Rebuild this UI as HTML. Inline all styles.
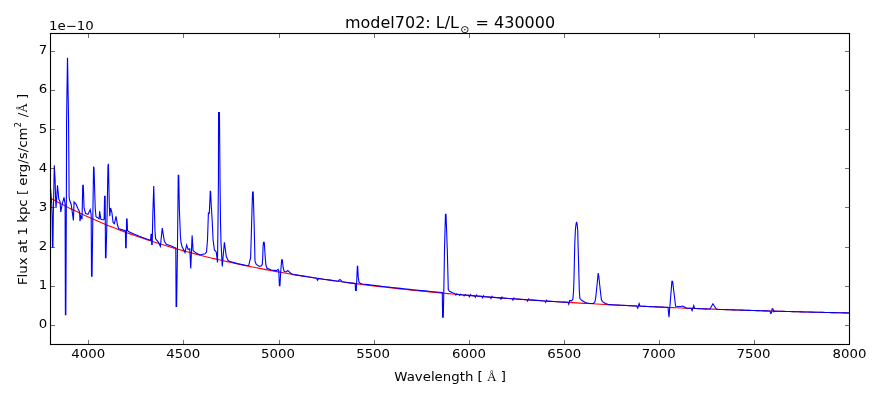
<!DOCTYPE html>
<html lang="en"><head><meta charset="utf-8"><title>model702 spectrum</title>
<style>html,body{margin:0;padding:0;background:#fff}svg{display:block;will-change:transform}text{font-family:"DejaVu Sans","Liberation Sans",sans-serif;fill:#000}.s{font-family:"Liberation Serif","DejaVu Serif",serif}</style></head><body>
<svg width="880" height="400" viewBox="0 0 880 400">
<rect width="880" height="400" fill="#fff"/>
<clipPath id="c"><rect x="50.5" y="33.5" width="799.0" height="311.0"/></clipPath>
<g clip-path="url(#c)" fill="none" stroke-width="1.11" stroke-linejoin="miter">
<path d="M50.50,198.14 L54.52,200.33 L58.53,202.48 L62.55,204.58 L66.56,206.63 L70.58,208.64 L74.59,210.61 L78.61,212.53 L82.62,214.41 L86.64,216.26 L90.65,218.06 L94.67,219.82 L98.68,221.55 L102.70,223.24 L106.71,224.90 L110.73,226.52 L114.74,228.10 L118.76,229.66 L122.77,231.18 L126.79,232.67 L130.80,234.13 L134.82,235.56 L138.83,236.96 L142.85,238.33 L146.86,239.68 L150.88,240.99 L154.89,242.28 L158.91,243.55 L162.92,244.79 L166.94,246.01 L170.95,247.20 L174.97,248.37 L178.98,249.51 L183.00,250.64 L187.01,251.74 L191.03,252.82 L195.04,253.88 L199.06,254.92 L203.07,255.94 L207.09,256.94 L211.10,257.92 L215.12,258.88 L219.13,259.83 L223.15,260.75 L227.16,261.66 L231.18,262.56 L235.19,263.43 L239.21,264.29 L243.22,265.14 L247.24,265.97 L251.25,266.78 L255.27,267.58 L259.28,268.37 L263.30,269.14 L267.31,269.90 L271.33,270.64 L275.34,271.37 L279.36,272.09 L283.37,272.79 L287.39,273.49 L291.40,274.17 L295.42,274.84 L299.43,275.50 L303.45,276.14 L307.46,276.78 L311.48,277.40 L315.49,278.02 L319.51,278.62 L323.53,279.22 L327.54,279.80 L331.56,280.37 L335.57,280.94 L339.59,281.49 L343.60,282.04 L347.62,282.58 L351.63,283.11 L355.65,283.63 L359.66,284.14 L363.68,284.64 L367.69,285.14 L371.71,285.63 L375.72,286.11 L379.74,286.58 L383.75,287.04 L387.77,287.50 L391.78,287.95 L395.80,288.40 L399.81,288.83 L403.83,289.26 L407.84,289.69 L411.86,290.10 L415.87,290.51 L419.89,290.92 L423.90,291.32 L427.92,291.71 L431.93,292.10 L435.95,292.48 L439.96,292.85 L443.98,293.22 L447.99,293.59 L452.01,293.94 L456.02,294.30 L460.04,294.65 L464.05,294.99 L468.07,295.33 L472.08,295.66 L476.10,295.99 L480.11,296.32 L484.13,296.64 L488.14,296.95 L492.16,297.26 L496.17,297.57 L500.19,297.87 L504.20,298.17 L508.22,298.46 L512.23,298.75 L516.25,299.03 L520.26,299.32 L524.28,299.59 L528.29,299.87 L532.31,300.14 L536.32,300.40 L540.34,300.67 L544.35,300.93 L548.37,301.18 L552.38,301.43 L556.40,301.68 L560.41,301.93 L564.43,302.17 L568.44,302.41 L572.46,302.64 L576.47,302.87 L580.49,303.10 L584.51,303.33 L588.52,303.55 L592.54,303.77 L596.55,303.99 L600.57,304.20 L604.58,304.41 L608.60,304.62 L612.61,304.83 L616.63,305.03 L620.64,305.23 L624.66,305.43 L628.67,305.62 L632.69,305.81 L636.70,306.00 L640.72,306.19 L644.73,306.38 L648.75,306.56 L652.76,306.74 L656.78,306.91 L660.79,307.09 L664.81,307.26 L668.82,307.43 L672.84,307.60 L676.85,307.76 L680.87,307.93 L684.88,308.09 L688.90,308.25 L692.91,308.40 L696.93,308.56 L700.94,308.71 L704.96,308.86 L708.97,309.01 L712.99,309.15 L717.00,309.30 L721.02,309.44 L725.03,309.58 L729.05,309.72 L733.06,309.85 L737.08,309.98 L741.09,310.12 L745.11,310.25 L749.12,310.37 L753.14,310.50 L757.15,310.62 L761.17,310.75 L765.18,310.87 L769.20,310.98 L773.21,311.10 L777.23,311.22 L781.24,311.33 L785.26,311.44 L789.27,311.55 L793.29,311.66 L797.30,311.76 L801.32,311.87 L805.33,311.97 L809.35,312.07 L813.36,312.17 L817.38,312.27 L821.39,312.36 L825.41,312.46 L829.42,312.55 L833.44,312.64 L837.45,312.73 L841.47,312.82 L845.48,312.90 L849.50,312.99" stroke="#f00"/>
<path d="M50.50,187.80 L51.70,203.00 L52.15,218.00 L52.50,247.00 L52.90,247.00 L53.30,215.00 L54.30,165.20 L55.10,180.00 L55.55,197.00 L56.00,208.00 L57.50,185.40 L58.80,199.00 L60.00,201.40 L60.80,212.00 L62.00,205.00 L64.00,197.40 L65.10,204.00 L65.40,314.75 L65.85,314.75 L66.40,190.00 L66.60,120.00 L67.45,58.30 L67.55,58.30 L68.55,120.00 L68.98,175.00 L69.10,197.00 L69.70,200.50 L71.20,204.50 L73.40,220.40 L74.05,201.90 L76.00,204.00 L78.00,208.80 L79.60,212.00 L80.00,221.20 L80.80,216.00 L82.00,219.20 L82.75,185.40 L83.30,185.40 L84.05,208.00 L85.60,213.60 L88.00,214.40 L90.20,209.60 L91.20,215.00 L91.50,276.10 L92.05,276.10 L92.85,215.00 L93.55,167.30 L94.00,167.60 L95.20,208.00 L96.00,216.80 L99.20,218.80 L99.60,211.20 L100.80,219.20 L103.20,220.00 L104.15,219.30 L104.55,196.40 L105.15,196.40 L105.50,257.75 L106.00,257.75 L107.10,215.00 L107.95,166.00 L108.40,163.80 L109.30,205.00 L109.75,216.25 L110.60,208.00 L111.90,212.50 L113.10,222.50 L114.40,223.75 L116.00,216.25 L117.50,225.00 L118.75,228.75 L125.00,230.60 L125.40,231.00 L125.65,247.75 L126.20,247.75 L126.55,219.00 L127.10,219.00 L127.50,230.50 L128.50,231.59 L131.00,232.70 L134.00,234.07 L138.00,235.67 L142.00,237.24 L146.00,238.69 L150.60,240.30 L151.05,234.40 L151.55,234.40 L151.70,244.50 L152.20,244.50 L152.80,215.00 L153.75,186.00 L155.00,231.25 L155.60,238.75 L158.10,241.90 L160.40,246.25 L162.25,228.10 L164.40,241.25 L166.25,244.40 L171.90,246.25 L175.80,248.00 L176.10,306.50 L176.60,306.50 L177.45,250.00 L178.25,175.20 L178.70,175.20 L179.40,210.00 L180.40,236.00 L181.00,242.50 L181.90,246.25 L185.00,252.50 L186.60,245.00 L188.10,249.40 L189.75,248.75 L190.75,268.50 L192.10,235.40 L193.10,250.60 L196.25,253.10 L200.00,255.00 L205.00,253.75 L206.50,252.00 L207.50,240.00 L208.40,213.00 L209.30,213.20 L209.90,200.00 L210.25,191.20 L210.60,191.20 L211.20,205.00 L212.00,217.00 L213.10,240.00 L214.40,250.00 L216.25,251.90 L217.50,262.50 L218.00,222.00 L218.45,180.00 L218.55,112.50 L219.45,112.50 L220.00,178.00 L220.50,222.00 L221.00,243.00 L221.30,248.00 L222.25,266.50 L224.40,242.25 L226.25,256.25 L228.10,260.60 L230.00,261.60 L237.50,263.60 L247.50,265.70 L248.75,265.60 L250.00,260.00 L250.60,258.00 L251.30,235.00 L252.00,210.00 L252.55,192.00 L253.20,192.00 L253.90,215.00 L254.40,235.00 L255.00,261.25 L256.25,264.40 L259.40,266.50 L261.40,265.80 L262.30,264.30 L262.70,258.00 L263.10,246.00 L263.50,242.20 L264.25,242.20 L264.75,250.00 L265.30,258.00 L265.90,265.00 L266.80,268.00 L271.25,270.00 L276.25,270.60 L278.20,269.40 L278.80,271.00 L279.40,285.60 L279.95,285.60 L280.70,272.00 L281.65,259.70 L282.30,259.70 L283.20,268.00 L284.20,271.50 L286.00,272.00 L287.80,270.50 L289.50,272.20 L291.25,273.75 L293.00,274.44 L295.94,274.92 L298.88,275.40 L301.81,275.88 L304.75,276.35 L307.69,276.81 L310.62,277.27 L313.56,277.72 L316.50,278.17 L317.50,280.25 L318.50,278.47 L321.75,278.95 L325.00,279.43 L328.25,279.90 L331.50,280.37 L334.75,280.82 L338.00,281.28 L339.30,279.90 L340.50,279.90 L342.00,281.82 L345.31,282.27 L348.62,282.71 L351.94,283.15 L355.25,283.58 L355.50,290.40 L356.30,290.40 L356.90,277.00 L357.35,266.40 L357.70,266.40 L358.25,277.00 L359.00,282.20 L360.50,283.40 L362.00,283.93 L364.97,284.30 L367.95,284.67 L370.92,285.03 L373.90,285.39 L376.87,285.74 L379.84,286.09 L382.82,286.44 L385.79,286.78 L388.77,287.11 L391.74,287.45 L394.71,287.78 L397.69,288.10 L400.66,288.42 L403.64,288.74 L406.61,289.06 L409.59,289.37 L412.56,289.68 L415.53,289.98 L418.51,290.28 L421.48,290.58 L424.46,290.87 L427.43,291.16 L430.40,291.45 L433.38,291.73 L436.35,292.01 L439.33,292.29 L442.30,292.57 L442.60,317.30 L443.30,317.30 L443.80,292.00 L444.50,250.00 L445.45,214.30 L446.00,214.30 L447.30,250.00 L448.30,289.50 L449.50,291.20 L452.50,292.70 L455.00,293.60 L455.20,294.23 L455.90,295.09 L456.90,293.87 L457.70,294.44 L459.00,294.56 L459.70,295.42 L460.70,294.20 L461.50,294.77 L463.40,294.93 L464.10,295.79 L465.10,294.58 L465.90,295.15 L466.40,295.19 L468.20,295.34 L468.70,295.38 L469.40,296.74 L470.40,294.62 L471.20,295.59 L471.70,295.63 L474.20,295.84 L474.70,295.88 L475.40,297.23 L476.40,295.12 L477.20,296.08 L477.70,296.12 L481.30,296.41 L481.80,296.45 L482.50,297.81 L483.50,295.69 L484.30,296.65 L484.80,296.69 L487.30,296.88 L489.80,297.08 L490.30,297.12 L491.00,298.47 L492.00,296.35 L492.80,297.31 L493.30,297.35 L496.55,297.60 L499.80,297.84 L500.30,297.88 L501.00,299.23 L502.00,297.10 L502.80,298.06 L503.30,298.10 L506.10,298.31 L508.90,298.51 L511.70,298.71 L512.20,298.75 L512.90,300.10 L513.90,297.97 L514.70,298.93 L515.20,298.96 L517.97,299.16 L520.75,299.35 L523.52,299.54 L526.30,299.73 L526.80,299.77 L527.50,301.11 L528.50,298.98 L529.30,299.94 L529.80,299.97 L532.72,300.16 L535.64,300.36 L538.56,300.55 L541.48,300.74 L544.40,300.93 L544.90,300.96 L545.60,302.30 L546.60,300.17 L547.40,301.12 L547.90,301.15 L551.08,301.35 L554.27,301.55 L557.45,301.75 L560.63,301.94 L563.82,302.13 L567.00,302.32 L568.00,302.38 L568.75,304.30 L569.70,300.50 L571.75,300.90 L572.90,299.00 L573.60,290.00 L574.10,275.00 L574.40,260.00 L574.75,245.00 L575.35,230.50 L575.90,225.20 L576.30,223.00 L576.60,222.40 L576.90,223.00 L577.25,225.20 L577.75,230.50 L578.05,245.00 L578.50,260.00 L578.90,275.00 L579.30,290.00 L579.85,298.25 L581.90,300.50 L586.00,302.75 L589.75,303.50 L593.50,303.35 L595.00,301.60 L595.75,297.50 L596.90,286.25 L597.80,277.25 L598.20,273.10 L598.90,277.25 L600.25,290.00 L601.40,299.75 L602.50,301.60 L605.50,303.50 L608.50,304.40 L609.00,304.64 L612.06,304.80 L615.11,304.95 L618.17,305.11 L621.22,305.26 L624.28,305.41 L627.33,305.56 L630.39,305.71 L633.44,305.85 L636.50,305.99 L637.75,308.10 L639.10,303.50 L640.00,306.00 L641.50,306.23 L644.44,306.36 L647.39,306.50 L650.33,306.63 L653.28,306.76 L656.22,306.89 L659.17,307.02 L662.11,307.15 L665.06,307.27 L668.00,307.40 L669.00,317.25 L670.40,300.00 L671.90,281.40 L672.60,281.40 L675.60,306.25 L680.60,306.50 L682.50,306.00 L685.00,307.25 L686.00,308.13 L688.60,308.23 L691.20,308.34 L692.10,310.60 L693.75,305.60 L694.50,308.20 L696.00,308.52 L698.80,308.63 L701.60,308.73 L704.40,308.84 L707.20,308.94 L710.00,309.04 L712.90,303.75 L716.25,309.00 L718.00,309.33 L721.06,309.44 L724.12,309.55 L727.18,309.65 L730.24,309.76 L733.29,309.86 L736.35,309.96 L739.41,310.06 L742.47,310.16 L745.53,310.26 L748.59,310.36 L751.65,310.45 L754.71,310.55 L757.76,310.64 L760.82,310.74 L763.88,310.83 L766.94,310.92 L770.00,311.01 L770.60,313.30 L771.40,313.00 L772.20,308.70 L773.00,308.90 L773.80,311.70 L775.00,311.15 L777.98,311.24 L780.96,311.32 L783.94,311.40 L786.92,311.49 L789.90,311.57 L792.88,311.65 L795.86,311.72 L798.84,311.80 L801.82,311.88 L804.80,311.96 L807.78,312.03 L810.76,312.11 L813.74,312.18 L816.72,312.25 L819.70,312.32 L822.68,312.39 L825.66,312.46 L828.64,312.53 L831.62,312.60 L834.60,312.66 L837.58,312.73 L840.56,312.80 L843.54,312.86 L846.52,312.92 L849.50,312.99" stroke="#00f"/>
</g>
<path d="M88.5,344.5v-4.5M88.5,33.5v4.5M183.5,344.5v-4.5M183.5,33.5v4.5M279.5,344.5v-4.5M279.5,33.5v4.5M374.5,344.5v-4.5M374.5,33.5v4.5M469.5,344.5v-4.5M469.5,33.5v4.5M564.5,344.5v-4.5M564.5,33.5v4.5M659.5,344.5v-4.5M659.5,33.5v4.5M754.5,344.5v-4.5M754.5,33.5v4.5M849.5,344.5v-4.5M849.5,33.5v4.5M50.5,325.5h4.5M849.5,325.5h-4.5M50.5,286.5h4.5M849.5,286.5h-4.5M50.5,247.5h4.5M849.5,247.5h-4.5M50.5,207.5h4.5M849.5,207.5h-4.5M50.5,168.5h4.5M849.5,168.5h-4.5M50.5,129.5h4.5M849.5,129.5h-4.5M50.5,90.5h4.5M849.5,90.5h-4.5M50.5,51.5h4.5M849.5,51.5h-4.5" stroke="#000" stroke-width="0.56" fill="none"/>
<rect x="50.5" y="33.5" width="799.0" height="311.0" fill="none" stroke="#000" stroke-width="1.11"/>
<text transform="translate(88.15,357.90) scale(1,0.92)" font-size="13.33px" text-anchor="middle">4000</text>
<text transform="translate(183.17,357.90) scale(1,0.92)" font-size="13.33px" text-anchor="middle">4500</text>
<text transform="translate(278.00,357.90) scale(1,0.92)" font-size="13.33px" text-anchor="middle">5000</text>
<text transform="translate(373.12,357.90) scale(1,0.92)" font-size="13.33px" text-anchor="middle">5500</text>
<text transform="translate(469.05,357.90) scale(1,0.92)" font-size="13.33px" text-anchor="middle">6000</text>
<text transform="translate(564.27,357.90) scale(1,0.92)" font-size="13.33px" text-anchor="middle">6500</text>
<text transform="translate(658.70,357.90) scale(1,0.92)" font-size="13.33px" text-anchor="middle">7000</text>
<text transform="translate(753.52,357.90) scale(1,0.92)" font-size="13.33px" text-anchor="middle">7500</text>
<text transform="translate(849.45,357.90) scale(1,0.92)" font-size="13.33px" text-anchor="middle">8000</text>
<text transform="translate(47.30,328.00) scale(1,0.92)" font-size="13.33px" text-anchor="end">0</text>
<text transform="translate(47.30,289.00) scale(1,0.92)" font-size="13.33px" text-anchor="end">1</text>
<text transform="translate(47.30,250.00) scale(1,0.92)" font-size="13.33px" text-anchor="end">2</text>
<text transform="translate(47.30,210.75) scale(1,0.92)" font-size="13.33px" text-anchor="end">3</text>
<text transform="translate(47.30,172.00) scale(1,0.92)" font-size="13.33px" text-anchor="end">4</text>
<text transform="translate(47.30,133.10) scale(1,0.92)" font-size="13.33px" text-anchor="end">5</text>
<text transform="translate(47.30,93.00) scale(1,0.92)" font-size="13.33px" text-anchor="end">6</text>
<text transform="translate(47.30,54.00) scale(1,0.92)" font-size="13.33px" text-anchor="end">7</text>
<text transform="translate(49.00,29.80) scale(1,0.92)" font-size="13.33px" text-anchor="start">1e−10</text>
<text transform="translate(345.00,27.80) scale(1,0.97)" font-size="16px" text-anchor="start">model702: L/L<tspan font-size="11px" dx="1.3" dy="5">⊙</tspan><tspan dx="1.0" dy="-5"> = 430000</tspan></text>
<text transform="translate(450.20,380.60) scale(1,0.92)" font-size="13.33px" text-anchor="middle">Wavelength [ <tspan class="s">Å</tspan> ]</text>
<text transform="translate(26.80,189.40) rotate(-90) scale(1,0.92)" font-size="13.33px" text-anchor="middle">Flux at 1 kpc [ erg/s/cm<tspan font-size="8.6px" dy="-5.8">2</tspan><tspan dy="5.8" dx="0.6"> /</tspan><tspan class="s">Å</tspan> ]</text>
</svg></body></html>
